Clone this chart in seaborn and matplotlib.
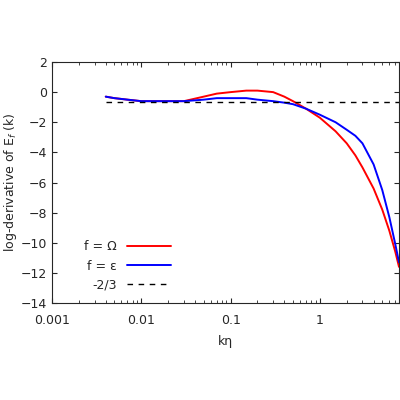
import matplotlib
matplotlib.use("Agg")
import matplotlib.pyplot as plt
import seaborn as sns
import pandas as pd
import numpy as np

sns.set_style("ticks")
plt.rcParams['font.family'] = ['DejaVu Sans']

k_red = [0.004, 0.005, 0.007, 0.01, 0.015, 0.02, 0.03, 0.05, 0.07, 0.1, 0.15, 0.2, 0.3, 0.4, 0.5, 0.7, 1.0, 1.5, 2.0, 2.5, 3.0, 4.0, 5.0, 6.0, 7.0, 7.7]
v_red = [-0.3, -0.4, -0.5, -0.6, -0.6, -0.6, -0.6, -0.3, -0.1, 0.0, 0.1, 0.1, 0.0, -0.3, -0.6, -1.1, -1.7, -2.6, -3.4, -4.2, -5.0, -6.4, -7.8, -9.2, -10.6, -11.6]
k_blue = [0.004, 0.005, 0.007, 0.01, 0.015, 0.02, 0.03, 0.05, 0.07, 0.1, 0.15, 0.2, 0.3, 0.4, 0.5, 0.7, 1.0, 1.5, 2.0, 2.5, 3.0, 4.0, 5.0, 6.0, 7.0, 7.7]
v_blue = [-0.3, -0.4, -0.5, -0.6, -0.6, -0.6, -0.6, -0.5, -0.4, -0.4, -0.4, -0.5, -0.6, -0.7, -0.8, -1.1, -1.5, -2.0, -2.5, -2.9, -3.4, -4.8, -6.5, -8.3, -10.1, -11.3]
ref_x = [0.004, 7.7]
ref_y = [-2/3, -2/3]

fig = plt.figure(figsize=(4, 4), dpi=100)
ax = fig.add_axes([0.13, 0.2425, 0.8675, 0.6025])
sns.lineplot(x=k_red, y=v_red, ax=ax, color='#ff0000', lw=1.4, label='f = Ω')
sns.lineplot(x=k_blue, y=v_blue, ax=ax, color='#0000ff', lw=1.4, label='f = ε')
sns.lineplot(x=ref_x, y=ref_y, ax=ax, color='black', lw=1, ls=(0, (4, 4)), label='-2/3')
ax.set_xscale('log')
ax.set_xlim(0.001, 7.7)
ax.set_ylim(-14, 2)
ax.set_yticks(range(-14, 3, 2))
ax.set_xticks([0.001, 0.01, 0.1, 1])
ax.set_xticklabels(['0.001', '0.01', '0.1', '1'])
ax.tick_params(which='both', direction='in', top=True, right=True, labelsize=9)
ax.tick_params(axis='x', pad=8)
ax.set_xlabel('kη', fontsize=9, labelpad=6)
ax.set_ylabel('log-derivative of E$_f$ (k)', fontsize=9, labelpad=1)
for s in ax.spines.values():
    s.set_linewidth(0.8)
leg = ax.legend(loc='lower left', frameon=False, markerfirst=False, fontsize=9, handlelength=3.5, bbox_to_anchor=(0.06, 0.0))
fig.savefig('out.png', dpi=100)
